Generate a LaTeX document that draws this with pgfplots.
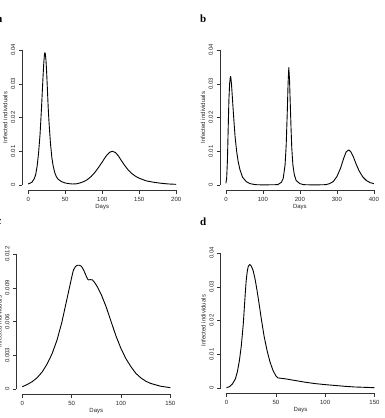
\documentclass[border=0pt]{standalone}
\usepackage{fontspec}
\setmainfont{Liberation Sans}
\newfontfamily\letfont{Liberation Serif}
\usepackage{pgfplots}
\pgfplotsset{compat=1.18}
\pgfplotstableread{
x y
0 0.0003
5 0.0008
8 0.0018
10 0.003
12 0.0055
14 0.0095
16 0.015
18 0.023
20 0.032
21 0.036
22 0.0388
22.5 0.0392
23 0.039
24 0.037
25 0.033
26 0.028
27 0.023
28 0.019
30 0.0125
32 0.008
34 0.0053
36 0.0036
38 0.0025
40 0.0018
45 0.001
50 0.0006
55 0.0004
60 0.0003
65 0.00035
70 0.0006
75 0.0010
80 0.0016
85 0.0025
90 0.0037
95 0.0052
100 0.0068
105 0.0085
110 0.0097
114 0.0100
118 0.0096
122 0.0086
126 0.0072
130 0.0059
135 0.0045
140 0.0034
145 0.0026
150 0.0020
160 0.0012
170 0.0008
180 0.0005
190 0.0003
200 0.0002
}\dataA
\pgfplotstableread{
x y
0 0.0005
2 0.002
4 0.007
6 0.016
8 0.025
10 0.030
12 0.0321
13 0.0321
15 0.030
18 0.025
21 0.020
25 0.014
29 0.010
33 0.007
38 0.0045
45 0.0023
55 0.001
65 0.0004
80 0.0001
100 0.00003
140 0.0001
150 0.0008
155 0.002
160 0.006
163 0.012
166 0.022
168 0.030
170 0.0348
172 0.031
174 0.024
176 0.017
178 0.011
181 0.006
185 0.003
190 0.0013
200 0.0004
210 0.0001
240 0.00002
270 0.0001
280 0.0004
290 0.001
300 0.0025
310 0.005
318 0.0078
325 0.0098
332 0.0104
338 0.0098
345 0.0082
352 0.0062
360 0.0042
370 0.0024
380 0.0013
390 0.0007
400 0.0004
}\dataB
\pgfplotstableread{
x y
0 0.0002
5 0.0004
10 0.00065
15 0.001
20 0.0015
25 0.0022
30 0.0031
35 0.0043
40 0.0059
43 0.0071
46 0.0083
49 0.0095
51 0.0103
52 0.0106
54 0.0109
56 0.0110
58 0.0110
60 0.0109
62 0.0106
64 0.0102
66 0.0098
67 0.0097
69 0.00972
71 0.0097
73 0.0095
76 0.0091
80 0.0084
85 0.0073
90 0.0060
95 0.0047
100 0.0036
105 0.0027
110 0.0020
115 0.0014
120 0.0010
125 0.0007
130 0.0005
140 0.00025
150 0.00012
}\dataC
\pgfplotstableread{
x y
0 0.0001
3 0.0004
6 0.0012
9 0.0027
11 0.0048
13 0.0080
15 0.0125
17 0.019
19 0.028
20 0.032
21 0.0345
22 0.036
23.5 0.0366
25 0.0362
27 0.0348
29 0.0322
31 0.0288
33 0.0250
35 0.0210
38 0.0155
41 0.0112
44 0.0078
47 0.0053
50 0.0036
52 0.0030
60 0.0027
70 0.0022
80 0.0017
90 0.0013
100 0.0010
110 0.00075
120 0.0005
130 0.0003
140 0.0002
150 0.0001
}\dataD
\tikzset{
 rline/.style={black!80, line width=0.45pt},
 curve/.style={black, line width=0.9pt, line join=round},
}
\pgfplotsset{
 rpanel/.style={
  scale only axis, width=159.8pt, height=145.8pt, anchor=south west,
  axis line style={draw=none},
  tick align=outside, xtick pos=bottom, ytick pos=left,
  major tick length=3.5pt,
  every tick/.style={black!80, line width=0.45pt},
  tick label style={font=\fontsize{6}{7}\selectfont, text=black!85},
  label style={font=\fontsize{6}{7}\selectfont, text=black!85},
  yticklabel style={rotate=90, anchor=south},
  xticklabel style={anchor=north},
  scaled ticks=false,
  x label style={at={(axis description cs:0.5,-0.1166)}, anchor=center},
  y label style={at={(axis description cs:-0.1064,0.5)}, anchor=center},
  ylabel={Infected individuals}, xlabel={Days},
  clip=false,
 },
}
\begin{document}
\begin{tikzpicture}
\useasboundingbox (0,0) rectangle (384pt,418pt);
\clip (0,0) rectangle (384pt,418pt);
% panel a
\begin{axis}[rpanel, at={(22.3pt,227.6pt)},
  xmin=-8, xmax=208, ymin=-0.0016, ymax=0.0416,
  xtick={0,50,100,150,200}, xticklabels={0,50,100,150,200},
  ytick={0,0.01,0.02,0.03,0.04}, yticklabels={0,0.01,0.02,0.03,0.04}]
\draw[rline] (axis cs:0,-0.0016) -- (axis cs:200,-0.0016);
\draw[rline] (axis cs:-8,0) -- (axis cs:-8,0.04);
\addplot[curve] table[x=x,y=y] {\dataA};
\end{axis}
% panel b
\begin{axis}[rpanel, at={(220pt,227.6pt)},
  xmin=-16, xmax=416, ymin=-0.0016, ymax=0.0416,
  xtick={0,100,200,300,400}, xticklabels={0,100,200,300,400},
  ytick={0,0.01,0.02,0.03,0.04}, yticklabels={0,0.01,0.02,0.03,0.04}]
\draw[rline] (axis cs:0,-0.0016) -- (axis cs:400,-0.0016);
\draw[rline] (axis cs:-16,0) -- (axis cs:-16,0.04);
\addplot[curve] table[x=x,y=y] {\dataB};
\end{axis}
% panel c
\begin{axis}[rpanel, at={(16.4pt,23.6pt)},
  xmin=-6, xmax=156, ymin=-0.00048, ymax=0.01248,
  xtick={0,50,100,150}, xticklabels={0,50,100,150},
  ytick={0,0.003,0.006,0.009,0.012}, yticklabels={0,0.003,0.006,0.009,0.012}]
\draw[rline] (axis cs:0,-0.00048) -- (axis cs:150,-0.00048);
\draw[rline] (axis cs:-6,0) -- (axis cs:-6,0.012);
\addplot[curve] table[x=x,y=y] {\dataC};
\end{axis}
% panel d
\begin{axis}[rpanel, at={(220.6pt,24.6pt)},
  xmin=-6, xmax=156, ymin=-0.0016, ymax=0.0416,
  xtick={0,50,100,150}, xticklabels={0,50,100,150},
  ytick={0,0.01,0.02,0.03,0.04}, yticklabels={0,0.01,0.02,0.03,0.04}]
\draw[rline] (axis cs:0,-0.0016) -- (axis cs:150,-0.0016);
\draw[rline] (axis cs:-6,0) -- (axis cs:-6,0.04);
\addplot[curve] table[x=x,y=y] {\dataD};
\end{axis}
\node[anchor=base east, inner sep=0pt, font=\letfont\bfseries\fontsize{11}{12}\selectfont] at (2.7pt,395.3pt) {a};
\node[anchor=base west, inner sep=0pt, font=\letfont\bfseries\fontsize{11}{12}\selectfont] at (200pt,395.3pt) {b};
\node[anchor=base east, inner sep=0pt, font=\letfont\bfseries\fontsize{11}{12}\selectfont] at (1.7pt,193pt) {c};
\node[anchor=base west, inner sep=0pt, font=\letfont\bfseries\fontsize{11}{12}\selectfont] at (200pt,192.5pt) {d};
\end{tikzpicture}
\end{document}
